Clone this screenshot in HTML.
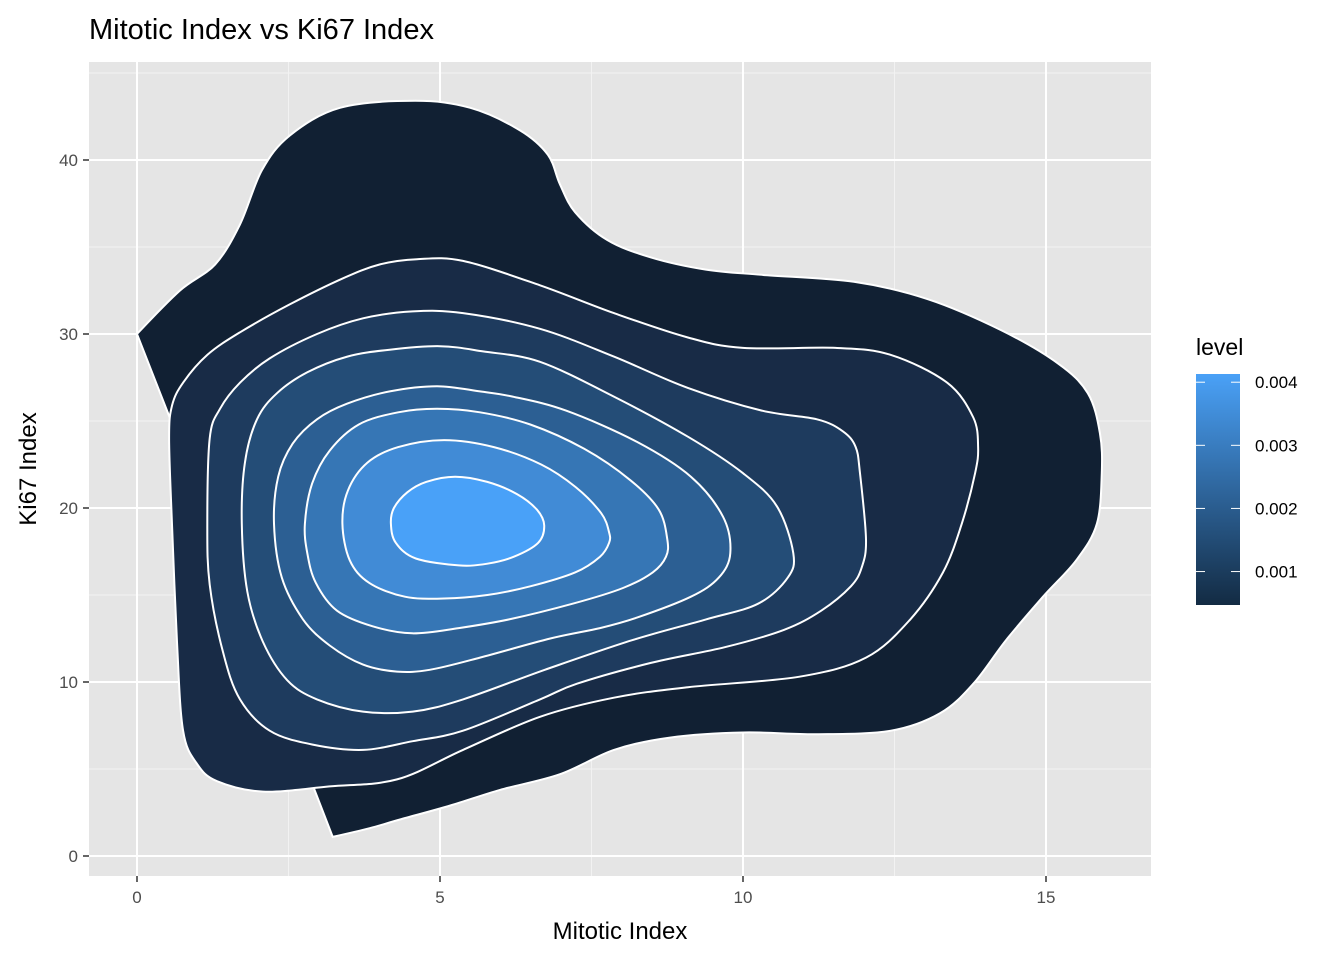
<!DOCTYPE html>
<html><head><meta charset="utf-8"><style>
body{margin:0;background:#fff;}
svg{display:block;font-family:"Liberation Sans",Arial,sans-serif;}
</style></head><body>
<svg id="chart" width="1344" height="960" viewBox="0 0 1344 960">
<defs><linearGradient id="lg" x1="0" y1="1" x2="0" y2="0"><stop offset="0" stop-color="#132B43"/><stop offset="1" stop-color="#4aa1f7"/></linearGradient></defs>
<text x="89" y="39" font-size="29" fill="#000">Mitotic Index vs Ki67 Index</text>
<rect x="89" y="62" width="1062" height="814" fill="#e5e5e5"/>
<g id="grid"></g>
<g id="bands"></g>
<g id="axes"></g>
<text x="620" y="939" font-size="24" text-anchor="middle" fill="#000">Mitotic Index</text>
<text transform="translate(36,469) rotate(-90)" font-size="24" text-anchor="middle" fill="#000">Ki67 Index</text>
<g>
<text x="1196" y="355" font-size="23" fill="#000">level</text>
<rect x="1196" y="374" width="44" height="231" fill="url(#lg)"/>
<g id="legend-ticks"></g>
</g>
</svg>
<script>
const xTicks=[0,5,10,15];
const yTicks=[0,10,20,30,40];
const legendLevels=[0.001,0.002,0.003,0.004];
const legendLabels=["0.001","0.002","0.003","0.004"];
const bandColors=["#112033","#182b46","#1e3b5e","#244d77","#2c5f93","#3676b5","#418bd6","#49a1f8"];
const band1=[[0,30],[0.71,32.5],[1.29,34.0],[1.70,36.3],[2.06,39.4],[2.52,41.4],[3.35,43.0],[4.59,43.4],[5.50,43.0],[6.32,41.7],[6.78,40.3],[6.98,38.6],[7.23,37.0],[7.76,35.4],[8.48,34.4],[9.39,33.7],[10.31,33.4],[11.83,33.0],[13.05,32.0],[14.27,30.2],[15.20,28.3],[15.69,26.6],[15.89,24.3],[15.92,22.0],[15.84,19.1],[15.50,17.0],[14.95,14.9],[14.34,12.4],[13.80,9.9],[13.25,8.2],[12.44,7.2],[11.22,7.0],[10.0,7.1],[8.78,6.8],[7.87,6.1],[6.98,4.7],[5.99,3.8],[5.17,2.9],[4.34,2.1],[3.84,1.6],[3.23,1.1],[2.94,3.7],[0.54,25.2]];
const band1Corners=[0,40,41,42];
const band2=[[0.53,24.0],[0.58,25.9],[0.76,27.2],[1.16,28.8],[1.70,30.1],[2.52,31.7],[3.40,33.2],[4.01,34.0],[4.62,34.3],[5.38,34.2],[6.65,32.8],[7.87,31.2],[9.09,29.8],[10.0,29.2],[11.53,29.2],[12.44,28.8],[13.37,27.2],[13.80,25.2],[13.88,23.5],[13.83,22.0],[13.61,19.1],[13.30,16.3],[12.76,13.6],[12.03,11.4],[10.92,10.3],[9.09,9.7],[7.87,9.1],[6.65,8.0],[5.38,6.1],[4.29,4.4],[3.18,4.0],[2.08,3.7],[1.32,4.3],[0.99,5.3],[0.76,7.2],[0.66,12.3],[0.58,18.9]];
const band3=[[1.16,19.1],[1.20,24.0],[1.37,25.7],[1.70,27.2],[2.19,28.6],[2.97,30.0],[3.73,30.9],[4.55,31.3],[5.38,31.2],[6.65,30.3],[7.87,28.7],[9.09,26.9],[10.31,25.6],[11.22,25.1],[11.65,24.4],[11.86,23.5],[11.93,22.0],[12.03,18.2],[11.96,16.6],[11.78,15.5],[11.29,14.1],[10.68,13.0],[9.70,12.0],[8.48,11.1],[7.26,9.9],[6.65,9.0],[5.38,7.2],[4.55,6.6],[3.73,6.1],[2.90,6.4],[2.19,7.2],[1.70,9.0],[1.42,11.7],[1.20,15.6]];
const band4=[[1.73,19.1],[1.78,22.6],[1.98,25.1],[2.31,26.6],[2.81,27.8],[3.47,28.7],[4.17,29.1],[5.00,29.3],[5.71,29.0],[6.65,28.4],[7.87,26.4],[9.09,24.1],[10.0,22.0],[10.56,20.1],[10.83,17.4],[10.74,16.0],[10.25,14.5],[9.39,13.6],[8.17,12.4],[6.73,10.7],[5.38,9.0],[4.55,8.3],[3.73,8.3],[2.97,9.0],[2.48,10.1],[2.08,12.3],[1.82,15.2]];
const band5=[[2.26,19.1],[2.33,21.8],[2.57,23.7],[2.97,25.1],[3.47,26.0],[4.17,26.7],[4.95,27.0],[5.66,26.7],[6.20,26.4],[7.08,25.6],[8.25,23.8],[9.14,21.8],[9.67,19.5],[9.79,17.4],[9.60,16.0],[9.14,14.9],[8.25,13.7],[7.64,13.1],[6.82,12.5],[5.66,11.4],[4.83,10.7],[4.29,10.6],[3.73,11.0],[3.18,12.1],[2.74,13.6],[2.39,16.0]];
const band6=[[2.77,19.1],[2.89,21.4],[3.18,23.3],[3.66,24.8],[4.31,25.5],[4.95,25.7],[5.66,25.5],[6.49,24.8],[7.38,23.4],[8.14,21.6],[8.61,19.9],[8.75,18.2],[8.73,17.2],[8.51,16.3],[8.02,15.4],[7.19,14.5],[6.14,13.6],[5.31,13.1],[4.54,12.8],[3.89,13.2],[3.30,14.1],[2.95,15.7],[2.81,17.4]];
const band7=[[3.39,19.1],[3.48,21.0],[3.80,22.6],[4.31,23.5],[5.07,23.9],[5.89,23.5],[6.67,22.5],[7.24,21.2],[7.66,19.7],[7.79,18.6],[7.79,18.0],[7.64,17.2],[7.23,16.3],[6.49,15.5],[5.78,15.0],[5.07,14.8],[4.42,14.9],[3.83,15.7],[3.51,17.0]];
const band8=[[4.19,19.1],[4.24,20.0],[4.46,20.9],[4.77,21.5],[5.25,21.8],[5.78,21.5],[6.27,20.8],[6.60,19.9],[6.72,19.0],[6.62,18.0],[6.22,17.2],[5.78,16.8],[5.31,16.7],[4.60,17.1],[4.27,18.0]];
const bands=[band1,band2,band3,band4,band5,band6,band7,band8];
const cornerSets=[band1Corners,[],[],[],[],[],[],[]];

const NS="http://www.w3.org/2000/svg";
const sx=v=>137+v*60.6;
const sy=v=>856-v*17.4;
const ly=v=>605-(v-0.00047)/(0.00413-0.00047)*231;
function mk(tag,attrs,parent){const e=document.createElementNS(NS,tag);for(const k in attrs)e.setAttribute(k,attrs[k]);parent.appendChild(e);return e;}
const grid=document.getElementById('grid');
[-2.5,2.5,7.5,12.5,17.5].forEach(v=>{const x=sx(v);if(x>89&&x<1151){const l=mk('line',{x1:x,x2:x,y1:62,y2:876,stroke:'#f2f2f2','stroke-width':1},grid);

}});
[5,15,25,35,45].forEach(v=>{const y=sy(v);if(y>62&&y<876){const l=mk('line',{x1:89,x2:1151,y1:y,y2:y,stroke:'#f2f2f2','stroke-width':1},grid);

}});
xTicks.forEach(v=>{const l=mk('line',{x1:sx(v),x2:sx(v),y1:62,y2:876,stroke:'#fff','stroke-width':2},grid);

});
yTicks.forEach(v=>{const l=mk('line',{x1:89,x2:1151,y1:sy(v),y2:sy(v),stroke:'#fff','stroke-width':2},grid);

});
function smooth(pts,corners){const p=pts.map(q=>[sx(q[0]),sy(q[1])]);const n=p.length;const isC=i=>corners.indexOf(i)>=0;
let d='M'+p[0][0].toFixed(1)+','+p[0][1].toFixed(1);
for(let i=0;i<n;i++){const j=(i+1)%n;const p0=p[(i-1+n)%n],p1=p[i],p2=p[j],p3=p[(i+2)%n];
const c1=isC(i)?p1:[p1[0]+(p2[0]-p0[0])/6,p1[1]+(p2[1]-p0[1])/6];
const c2=isC(j)?p2:[p2[0]-(p3[0]-p1[0])/6,p2[1]-(p3[1]-p1[1])/6];
d+='C'+c1[0].toFixed(1)+','+c1[1].toFixed(1)+' '+c2[0].toFixed(1)+','+c2[1].toFixed(1)+' '+p2[0].toFixed(1)+','+p2[1].toFixed(1);}return d+'Z';}
const bg=document.getElementById('bands');
bands.forEach((b,i)=>{const path=mk('path',{d:smooth(b,cornerSets[i]),fill:bandColors[i],stroke:'#fff','stroke-width':2,'stroke-linejoin':'miter'},bg);

});
const ax=document.getElementById('axes');
xTicks.forEach(v=>{const t=mk('line',{x1:sx(v),x2:sx(v),y1:876,y2:882,stroke:'#333','stroke-width':1.5},ax);


const tx=mk('text',{x:sx(v),y:903,'font-size':17,'text-anchor':'middle',fill:'#4d4d4d'},ax);tx.textContent=v;

});
yTicks.forEach(v=>{const t=mk('line',{x1:83,x2:89,y1:sy(v),y2:sy(v),stroke:'#333','stroke-width':1.5},ax);


const tx=mk('text',{x:78,y:sy(v)+6,'font-size':17,'text-anchor':'end',fill:'#4d4d4d'},ax);tx.textContent=v;

});
const lt=document.getElementById('legend-ticks');
legendLevels.forEach((v,i)=>{const y=ly(v);
const a=mk('line',{x1:1196,x2:1205,y1:y,y2:y,stroke:'#fff','stroke-width':1},lt);


const b=mk('line',{x1:1231,x2:1240,y1:y,y2:y,stroke:'#fff','stroke-width':1},lt);


const tx=mk('text',{x:1255,y:y+6,'font-size':17,fill:'#000'},lt);tx.textContent=legendLabels[i];

});
</script>
</body></html>
